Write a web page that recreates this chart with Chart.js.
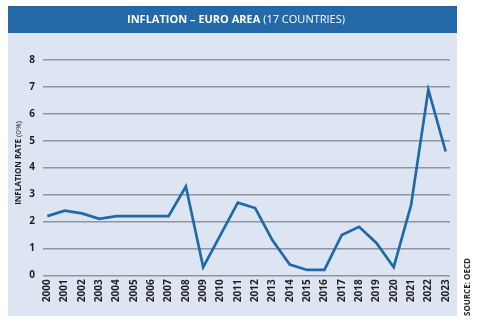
<!DOCTYPE html>
<html>
<head>
<meta charset="utf-8">
<script src="https://cdn.jsdelivr.net/npm/chart.js@4/dist/chart.umd.min.js"></script>
<style>
    html, body { margin: 0; padding: 0; background: #ffffff; }
    #wrap { position: relative; width: 480px; height: 326px; }
</style>
</head>
<body>
<div id="wrap"><canvas id="inflationChart" width="480" height="326"></canvas></div>
<script>
const years = ['2000', '2001', '2002', '2003', '2004', '2005', '2006', '2007', '2008', '2009', '2010', '2011',
    '2012', '2013', '2014', '2015', '2016', '2017', '2018', '2019', '2020', '2021', '2022', '2023']
const inflationRate = [2.2, 2.4, 2.3, 2.1, 2.2, 2.2, 2.2, 2.2, 3.3, 0.3, 1.5, 2.7,
    2.5, 1.3, 0.4, 0.2, 0.2, 1.5, 1.8, 1.2, 0.3, 2.6, 6.9, 4.6]
const yTicks = [0, 1, 2, 3, 4, 5, 6, 7, 8]

const FONT = '"Open Sans", "Noto Sans", sans-serif'
const BLUE = '#2369a7'
const PANEL = '#dee5f2'

// panel, header bar and the side captions
const framePlugin = {
    id: 'frame',
    beforeDraw(chart) {
        const c = chart.ctx
        c.save()
        c.fillStyle = '#ffffff'
        c.fillRect(0, 0, chart.width, chart.height)
        c.fillStyle = PANEL
        c.fillRect(8, 33, 449, 283)
        c.fillStyle = BLUE
        c.fillRect(8, 6, 449, 27)

        // header: bold part + regular part, centred together
        const bold = 'INFLATION – EURO AREA '
        const normal = '(17 COUNTRIES)'
        c.font = `bold 11px ${FONT}`
        const wb = c.measureText(bold).width
        c.font = `11px ${FONT}`
        const wn = c.measureText(normal).width
        let x = 236 - (wb + wn) / 2
        c.textBaseline = 'middle'
        c.textAlign = 'left'
        c.fillStyle = '#ffffff'
        c.font = `bold 11px ${FONT}`
        c.fillText(bold, x, 20)
        c.font = `11px ${FONT}`
        c.fillText(normal, x + wb, 20)
        c.restore()
    },
    afterDraw(chart) {
        const c = chart.ctx
        c.save()
        c.fillStyle = '#1e1e1e'
        c.textBaseline = 'middle'

        // y axis caption
        const b = 'INFLATION RATE '
        const n = '(0%)'
        c.translate(18.5, 163)
        c.rotate(-Math.PI / 2)
        c.font = `bold 8px ${FONT}`
        const wb = c.measureText(b).width
        c.font = `8px ${FONT}`
        const wn = c.measureText(n).width
        c.textAlign = 'left'
        c.font = `bold 8px ${FONT}`
        c.fillText(b, -(wb + wn) / 2, 0)
        c.font = `8px ${FONT}`
        c.fillText(n, -(wb + wn) / 2 + wb, 0)
        c.restore()

        // source note on the right
        c.save()
        c.fillStyle = '#1e1e1e'
        c.textBaseline = 'middle'
        c.textAlign = 'left'
        c.font = `bold 8px ${FONT}`
        c.translate(468, 316)
        c.rotate(-Math.PI / 2)
        c.fillText('SOURCE: OECD', 0, 0)
        c.restore()
    }
}

const ctx = document.getElementById('inflationChart').getContext('2d')

new Chart(ctx, {
    type: 'line',
    data: {
        datasets: [{
            label: 'Inflation rate',
            data: inflationRate.map((v, i) => ({ x: i, y: v })),
            borderColor: '#1f69a8',
            borderWidth: 2.7,
            pointRadius: 0,
            tension: 0,
            fill: false
        }]
    },
    options: {
        responsive: false,
        animation: false,
        devicePixelRatio: 1,
        layout: { padding: { left: 0, right: 30, top: 60, bottom: 0 } },
        plugins: {
            legend: { display: false },
            tooltip: { enabled: false }
        },
        scales: {
            x: {
                type: 'linear',
                min: -0.25,
                max: years.length - 0.75,
                afterFit(scale) { scale.height = 50.7 },
                grid: { display: false, drawTicks: false },
                border: { display: false },
                ticks: {
                    stepSize: 1,
                    includeBounds: false,
                    autoSkip: false,
                    minRotation: 90,
                    maxRotation: 90,
                    padding: 4,
                    color: '#1e1e1e',
                    font: { family: FONT, size: 10, weight: 'bold' },
                    callback: v => Number.isInteger(v) ? years[v] : ''
                }
            },
            y: {
                min: 0,
                max: 8,
                afterFit(scale) { scale.width = 43 },
                afterBuildTicks(scale) { scale.ticks = yTicks.map(v => ({ value: v })) },
                grid: { color: '#8e95a2', lineWidth: 1.4, drawTicks: false },
                border: { display: false },
                ticks: {
                    padding: 8,
                    color: '#1e1e1e',
                    font: { family: FONT, size: 10, weight: 'bold' }
                }
            }
        }
    },
    plugins: [framePlugin]
})
</script>
</body>
</html>
